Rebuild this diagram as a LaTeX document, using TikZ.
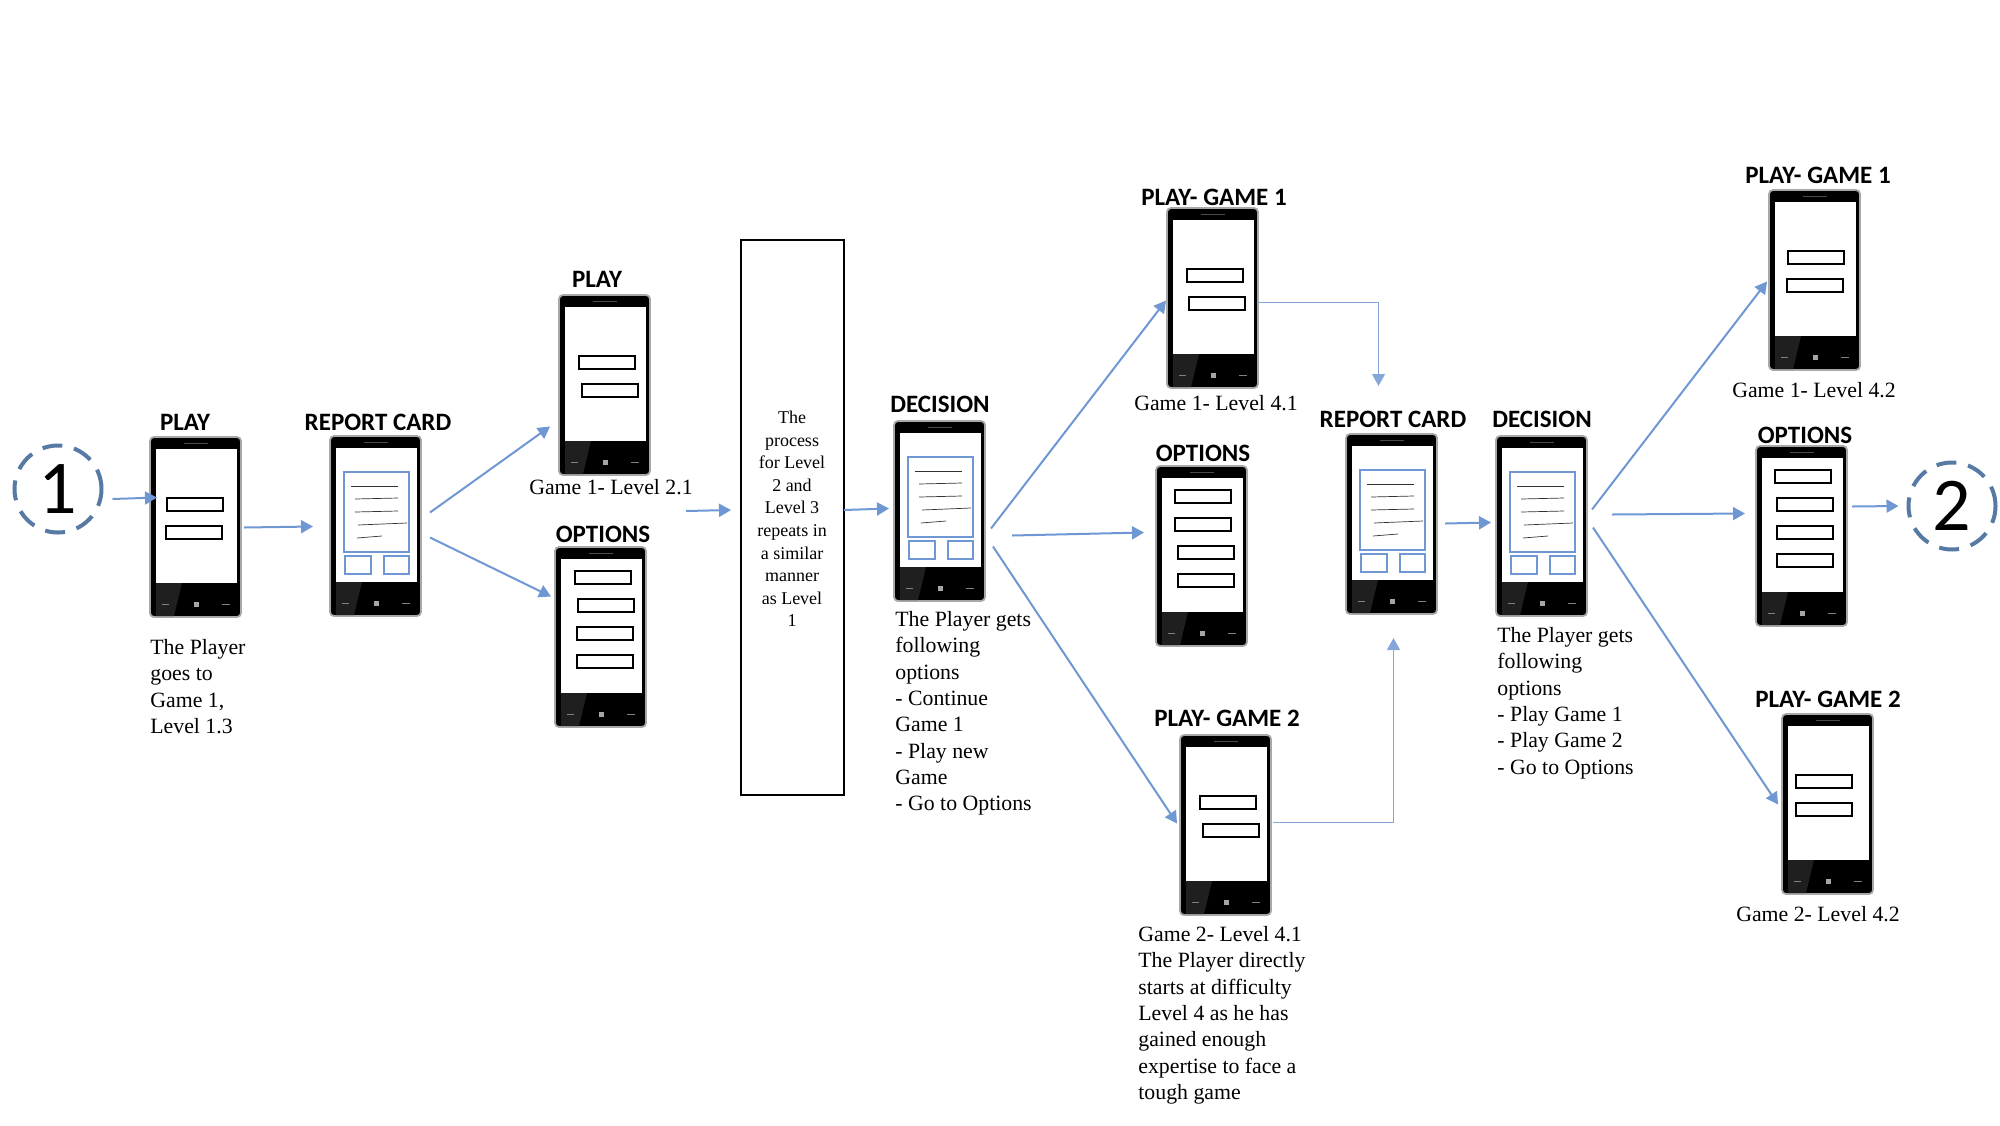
\documentclass[tikz,border=0pt]{standalone}
\usepackage{fontspec}
\setmainfont{Liberation Serif}
\newfontfamily\titlefont{Carlito}
\usetikzlibrary{arrows.meta}
\definecolor{flowblue}{HTML}{6F97D3}
\definecolor{ringblue}{HTML}{567AA3}
\definecolor{rimgray}{HTML}{A8A8A8}
\tikzset{
    flow/.style={draw=flowblue, line width=1pt, -{Triangle[length=6pt,width=6.5pt]}},
    flowthin/.style={draw=flowblue!85, line width=.55pt, -{Triangle[length=6pt,width=6.5pt]}},
    phonebody/.style={draw=rimgray, line width=.9pt, fill=black, rounded corners=2pt, inner sep=0pt, outer sep=0pt, minimum width=45.5pt, minimum height=90pt, anchor=north west},
    screenbox/.style={draw=black, line width=.8pt, fill=white},
    bluebox/.style={draw=flowblue, line width=.8pt, fill=white},
    textline/.style={draw=black!80, line width=.35pt},
    phonetitle/.style={font=\titlefont\bfseries\fontsize{12.5}{14}\selectfont, inner sep=0pt},
    caption/.style={font=\fontsize{10.9}{13.15}\selectfont, align=left, inner sep=0pt, anchor=north west},
    ring/.style={circle, draw=ringblue, line width=2pt, dash pattern=on 10pt off 6pt, minimum size=43.5pt, inner sep=0pt, outer sep=0pt, font=\titlefont\fontsize{38}{40}\selectfont},
}
% phone: name, left, top
\newcommand{\phone}[3]{
    \node[phonebody] (#1) at (#2,#3) {};
    \begin{scope}[shift={(#1.north west)}]
        \fill[black!88] (6,146) -- (32,146) -- (24,179) -- (6,179) -- cycle;
        \fill[white] (6,12) rectangle (87,146);
        \draw[black!70, line width=.5pt] (34,6.5) -- (58,6.5);
        \draw[gray, line width=.5pt] (12,167) -- (19,167);
        \fill[gray!70] (43.5,165) rectangle (48.5,170);
        \draw[gray, line width=.5pt] (72,167) -- (80,167);
    \end{scope}
}
% two white fields on the screen
\newcommand{\playfields}[3]{
    \begin{scope}[shift={(#1.north west)}]
        \draw[screenbox] (#2,61) rectangle +(56,13);
        \draw[screenbox] (#3,89) rectangle +(56,13);
    \end{scope}
}
\newcommand{\optionfields}[5]{
    \begin{scope}[shift={(#1.north west)}]
        \draw[screenbox] (#2,24) rectangle +(56,13);
        \draw[screenbox] (#3,52) rectangle +(56,13);
        \draw[screenbox] (#4,80) rectangle +(56,13);
        \draw[screenbox] (#5,108) rectangle +(56,13);
    \end{scope}
}
\newcommand{\reportsheet}[1]{
    \begin{scope}[shift={(#1.north west)}]
        \draw[bluebox] (14,36) rectangle (79,116);
        \draw[bluebox] (15,120) rectangle (41,138);
        \draw[bluebox] (54,120) rectangle (79,138);
        \draw[textline] (21,50) -- (68,50);
        \draw[textline] (25,63) -- (68,62);
        \draw[textline] (25,76) -- (68,75);
        \draw[textline] (28,89) -- (77,87);
        \draw[textline] (27,102) -- (52,100);
    \end{scope}
}
\begin{document}
\begin{tikzpicture}[x=.5pt,y=-.5pt]
        \useasboundingbox (0,0) rectangle (2000,1125);
        % phones
        \phone{playA}{150}{437}
        \phone{reportA}{330}{436}
        \phone{playB}{559}{295}
        \phone{optionsA}{555}{547}
        \phone{decisionA}{894}{421}
        \phone{playC}{1167}{208}
        \phone{optionsB}{1156}{466}
        \phone{playD}{1180}{735}
        \phone{reportB}{1346}{434}
        \phone{decisionB}{1496}{436}
        \phone{playE}{1769}{190}
        \phone{optionsC}{1756}{446}
        \phone{playF}{1782}{714}
        \playfields{playA}{17}{16}
        \playfields{playB}{20}{23}
        \playfields{playC}{20}{22}
        \playfields{playD}{20}{23}
        \playfields{playE}{19}{18}
        \playfields{playF}{14}{14}
        \optionfields{optionsA}{20}{23}{22}{22}
        \optionfields{optionsB}{19}{19}{22}{22}
        \optionfields{optionsC}{19}{21}{21}{21}
        \reportsheet{reportA}
        \reportsheet{decisionA}
        \reportsheet{reportB}
        \reportsheet{decisionB}
        % titles
        \node[phonetitle] (tplayA) at (185,422) {PLAY};
        \node[phonetitle] (treportA) at (378,422) {REPORT CARD};
        \node[phonetitle] (tplayB) at (597,279) {PLAY};
        \node[phonetitle] (toptionsA) at (603,534) {OPTIONS};
        \node[phonetitle] (tdecisionA) at (940,404) {DECISION};
        \node[phonetitle] (tplayC) at (1214,197) {PLAY- GAME 1};
        \node[phonetitle] (toptionsB) at (1203,453) {OPTIONS};
        \node[phonetitle] (tplayD) at (1227,718) {PLAY- GAME 2};
        \node[phonetitle] (treportB) at (1393,419) {REPORT CARD};
        \node[phonetitle] (tdecisionB) at (1542,419) {DECISION};
        \node[phonetitle] (tplayE) at (1818,175) {PLAY- GAME 1};
        \node[phonetitle] (toptionsC) at (1805,435) {OPTIONS};
        \node[phonetitle] (tplayF) at (1828,699) {PLAY- GAME 2};
        % captions
        \node[caption] (capA) at (150,639) {The Player\\goes to\\Game 1,\\Level 1.3};
        \node[caption,anchor=center] (capB) at (611,487) {Game 1- Level 2.1};
        \node[caption,anchor=center] (capC) at (1216,403) {Game 1- Level 4.1};
        \node[caption,anchor=center] (capD) at (1814,390) {Game 1- Level 4.2};
        \node[caption,anchor=center] (capE) at (1818,914) {Game 2- Level 4.2};
        \node[caption] (capF) at (895,611) {The Player gets\\following\\options\\- Continue\\Game 1\\- Play new\\Game\\- Go to Options};
        \node[caption] (capG) at (1138,926) {Game 2- Level 4.1\\The Player directly\\starts at difficulty\\Level 4 as he has\\gained enough\\expertise to face a\\tough game};
        \node[caption] (capH) at (1497,627) {The Player gets\\following\\options\\- Play Game 1\\- Play Game 2\\- Go to Options};
        % repeat box
        \draw[draw=black, line width=.8pt] (741,240) rectangle (844,795);
        \node[draw=none, inner sep=0pt, align=center, font=\fontsize{9}{11.3}\selectfont] (boxtext) at (792,519) {The\\process\\for Level\\2 and\\Level 3\\repeats in\\a similar\\manner\\as Level\\1};
        \coordinate (boxW) at (741,517.5);
        \coordinate (boxE) at (844,517.5);
        \coordinate (gapA) at (686,511);
        % rings
        \node[ring] (ringA) at (58,489) {1};
        \node[ring] (ringB) at (1952,506) {2};
        % connectors
        \draw[flow] ([shift={(11,10)}]ringA.east) -- ([shift={(7,-29.5)}]playA.west);
        \draw[flow] ([shift={(3,.5)}]playA.east) -- ([shift={(-17,.5)}]reportA.west);
        \draw[flow] ([shift={(9,-13.5)}]reportA.east) -- ([shift={(-9,41.5)}]playB.west);
        \draw[flow] ([shift={(9,11.5)}]reportA.east) -- ([shift={(-4,-40.5)}]optionsA.west);
        \draw[flow] (gapA) -- ([shift={(-10,-7.5)}]boxW);
        \draw[flow] ([shift={(0,-7.5)}]boxE) -- ([shift={(-5,-2.5)}]decisionA.west);
        \draw[flow] ([shift={(6,17.5)}]decisionA.east) -- ([shift={(-1,2.5)}]playC.west);
        \draw[flow] ([shift={(27,24.5)}]decisionA.east) -- ([shift={(-12,-23.5)}]optionsB.west);
        \draw[flow] ([shift={(8,35.5)}]decisionA.east) -- ([shift={(-3,-1.5)}]playD.west);
        \draw[flowthin] ([shift={(0,4.5)}]playC.east) -| ([shift={(-13,-48)}]reportB.north);
        \draw[flowthin] ([shift={(2,-2.5)}]playD.east) -| ([shift={(2,24)}]reportB.south);
        \draw[flow] ([shift={(8,-.5)}]reportB.east) -- ([shift={(-5,-3.5)}]decisionB.west);
        \draw[flow] ([shift={(5,-16.5)}]decisionB.east) -- ([shift={(-2,1.5)}]playE.west);
        \draw[flow] ([shift={(25,-11.5)}]decisionB.east) -- ([shift={(-11,-22.5)}]optionsC.west);
        \draw[flow] ([shift={(6,1.5)}]decisionB.east) -- ([shift={(-4,.5)}]playF.west);
        \draw[flow] ([shift={(5,-29.5)}]optionsC.east) -- ([shift={(-10,0)}]ringB.west);
\end{tikzpicture}
\end{document}
